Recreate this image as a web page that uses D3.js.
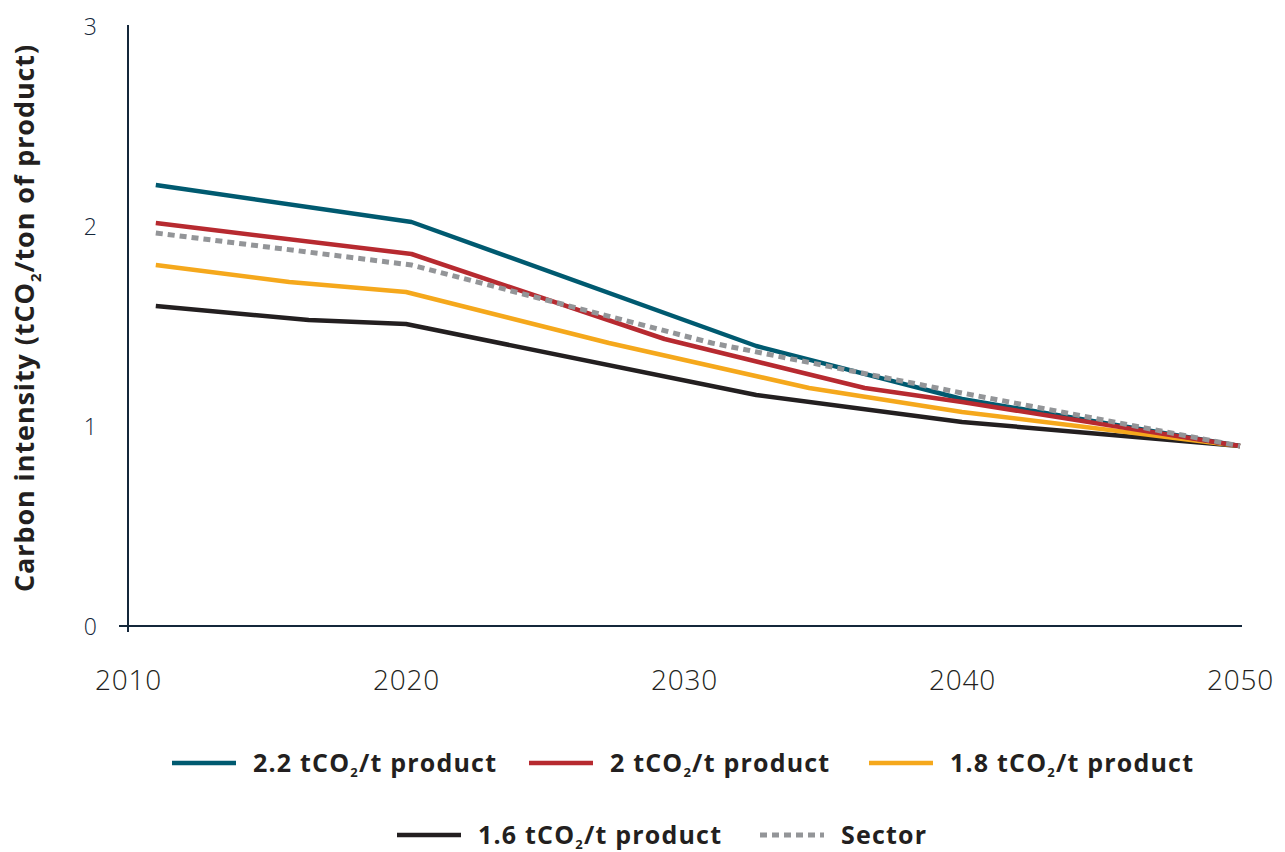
<!DOCTYPE html>
<html>
<head>
<meta charset="utf-8">
<script src="https://cdn.jsdelivr.net/npm/d3@7"></script>
<style>
  html, body { margin: 0; padding: 0; background: #ffffff; }
  svg { display: block; }
</style>
</head>
<body>
<svg id="chart" width="1285" height="852"></svg>
<script>
// ---- data ----
const xTicks = [2010, 2020, 2030, 2040, 2050];
const yTicks = [0, 1, 2, 3];

const series22Years  = [2011, 2020.2, 2032.6, 2040, 2050];
const series22Values = [2.205, 2.02, 1.40, 1.135, 0.9];

const series20Years  = [2011, 2020.2, 2029.3, 2036.5, 2040, 2050];
const series20Values = [2.015, 1.86, 1.435, 1.19, 1.12, 0.9];

const series18Years  = [2011, 2015.8, 2020, 2027.3, 2034.5, 2040, 2050];
const series18Values = [1.805, 1.72, 1.67, 1.415, 1.19, 1.07, 0.9];

const series16Years  = [2011, 2016.5, 2020, 2032.6, 2040, 2050];
const series16Values = [1.60, 1.53, 1.51, 1.155, 1.02, 0.9];

const sectorYears  = [2011, 2020.2, 2031, 2040, 2050];
const sectorValues = [1.965, 1.805, 1.415, 1.165, 0.9];

const seriesNames = ["2.2", "2", "1.8", "1.6", "Sector"];

// ---- setup ----
const svg = d3.select("#chart");
const x = d3.scaleLinear().domain([2010, 2050]).range([128, 1240]);
const y = d3.scaleLinear().domain([0, 3]).range([626, 26]);

const zip = (ys, vs) => ys.map((yr, i) => ({ year: yr, value: vs[i] }));
const series = [
  { name: seriesNames[0], data: zip(series22Years, series22Values), color: "#005a70", dash: null },
  { name: seriesNames[1], data: zip(series20Years, series20Values), color: "#b72a30", dash: null },
  { name: seriesNames[2], data: zip(series18Years, series18Values), color: "#f5a81c", dash: null },
  { name: seriesNames[3], data: zip(series16Years, series16Values), color: "#231f20", dash: null },
  { name: seriesNames[4], data: zip(sectorYears, sectorValues), color: "#939598", dash: "7,5" }
];

// ---- axes ----
const yAxis = d3.axisLeft(y).tickValues(yTicks).tickSize(0).tickPadding(31).tickFormat(d3.format("d"));
const gy = svg.append("g").attr("transform", `translate(${x(2010)},0)`).call(yAxis);
gy.select(".domain").remove();
gy.selectAll("text")
  .attr("font-family", "'Open Sans', sans-serif")
  .attr("font-weight", 300)
  .attr("font-size", 23)
  .attr("fill", "#14273a")
  .attr("dy", "0.36em");

const xAxis = d3.axisBottom(x).tickValues(xTicks).tickSize(0).tickPadding(44).tickFormat(d3.format("d"));
const gx = svg.append("g").attr("transform", `translate(0,${y(0)})`).call(xAxis);
gx.select(".domain").remove();
gx.selectAll("text")
  .attr("font-family", "'Open Sans', sans-serif")
  .attr("font-weight", 300)
  .attr("font-size", 28)
  .attr("letter-spacing", 0.8)
  .attr("fill", "#231f20");

// axis lines
svg.append("line")
  .attr("x1", x(2010)).attr("x2", x(2010))
  .attr("y1", y(3) - 1).attr("y2", y(0) + 6)
  .attr("stroke", "#14273a").attr("stroke-width", 2);
svg.append("line")
  .attr("x1", x(2010) - 9).attr("x2", x(2050) + 2)
  .attr("y1", y(0)).attr("y2", y(0))
  .attr("stroke", "#14273a").attr("stroke-width", 2.2);

// y axis title
const title = svg.append("text")
  .attr("transform", `translate(34,318) rotate(-90)`)
  .attr("text-anchor", "middle")
  .attr("font-family", "'Open Sans', sans-serif")
  .attr("font-weight", 700)
  .attr("font-size", 27)
  .attr("letter-spacing", 0.9)
  .attr("fill", "#231f20");
title.append("tspan").text("Carbon intensity (tCO");
title.append("tspan").text("2").attr("font-size", 15).attr("dy", 7);
title.append("tspan").text("/ton of product)").attr("dy", -7);

// ---- lines ----
const line = d3.line().x(d => x(d.year)).y(d => y(d.value)).curve(d3.curveLinear);
const order = [3, 2, 0, 1, 4];
order.forEach(i => {
  const s = series[i];
  svg.append("path")
    .datum(s.data)
    .attr("d", line)
    .attr("fill", "none")
    .attr("stroke", s.color)
    .attr("stroke-width", s.dash ? 5 : 4.5)
    .attr("stroke-dasharray", s.dash)
    .attr("stroke-linejoin", "round");
});

// ---- legend ----
const legendItems = [
  { s: series[0], x: 172, y: 763, label: ["2.2 tCO", "2", "/t product"] },
  { s: series[1], x: 529, y: 763, label: ["2 tCO", "2", "/t product"] },
  { s: series[2], x: 869, y: 763, label: ["1.8 tCO", "2", "/t product"] },
  { s: series[3], x: 397, y: 835, label: ["1.6 tCO", "2", "/t product"] },
  { s: series[4], x: 760, y: 835, label: ["Sector"] }
];
legendItems.forEach(it => {
  const g = svg.append("g");
  g.append("line")
    .attr("x1", it.x).attr("x2", it.x + 64)
    .attr("y1", it.y).attr("y2", it.y)
    .attr("stroke", it.s.color)
    .attr("stroke-width", it.s.dash ? 5 : 4.5)
    .attr("stroke-dasharray", it.s.dash);
  const t = g.append("text")
    .attr("x", it.x + 81)
    .attr("y", it.y + 9)
    .attr("font-family", "'Open Sans', sans-serif")
    .attr("font-weight", 700)
    .attr("font-size", 25)
    .attr("letter-spacing", 1.2)
    .attr("fill", "#231f20");
  t.append("tspan").text(it.label[0]);
  if (it.label.length > 1) {
    t.append("tspan").text(it.label[1]).attr("font-size", 13).attr("dy", 5);
    t.append("tspan").text(it.label[2]).attr("dy", -5);
  }
});
</script>
</body>
</html>
